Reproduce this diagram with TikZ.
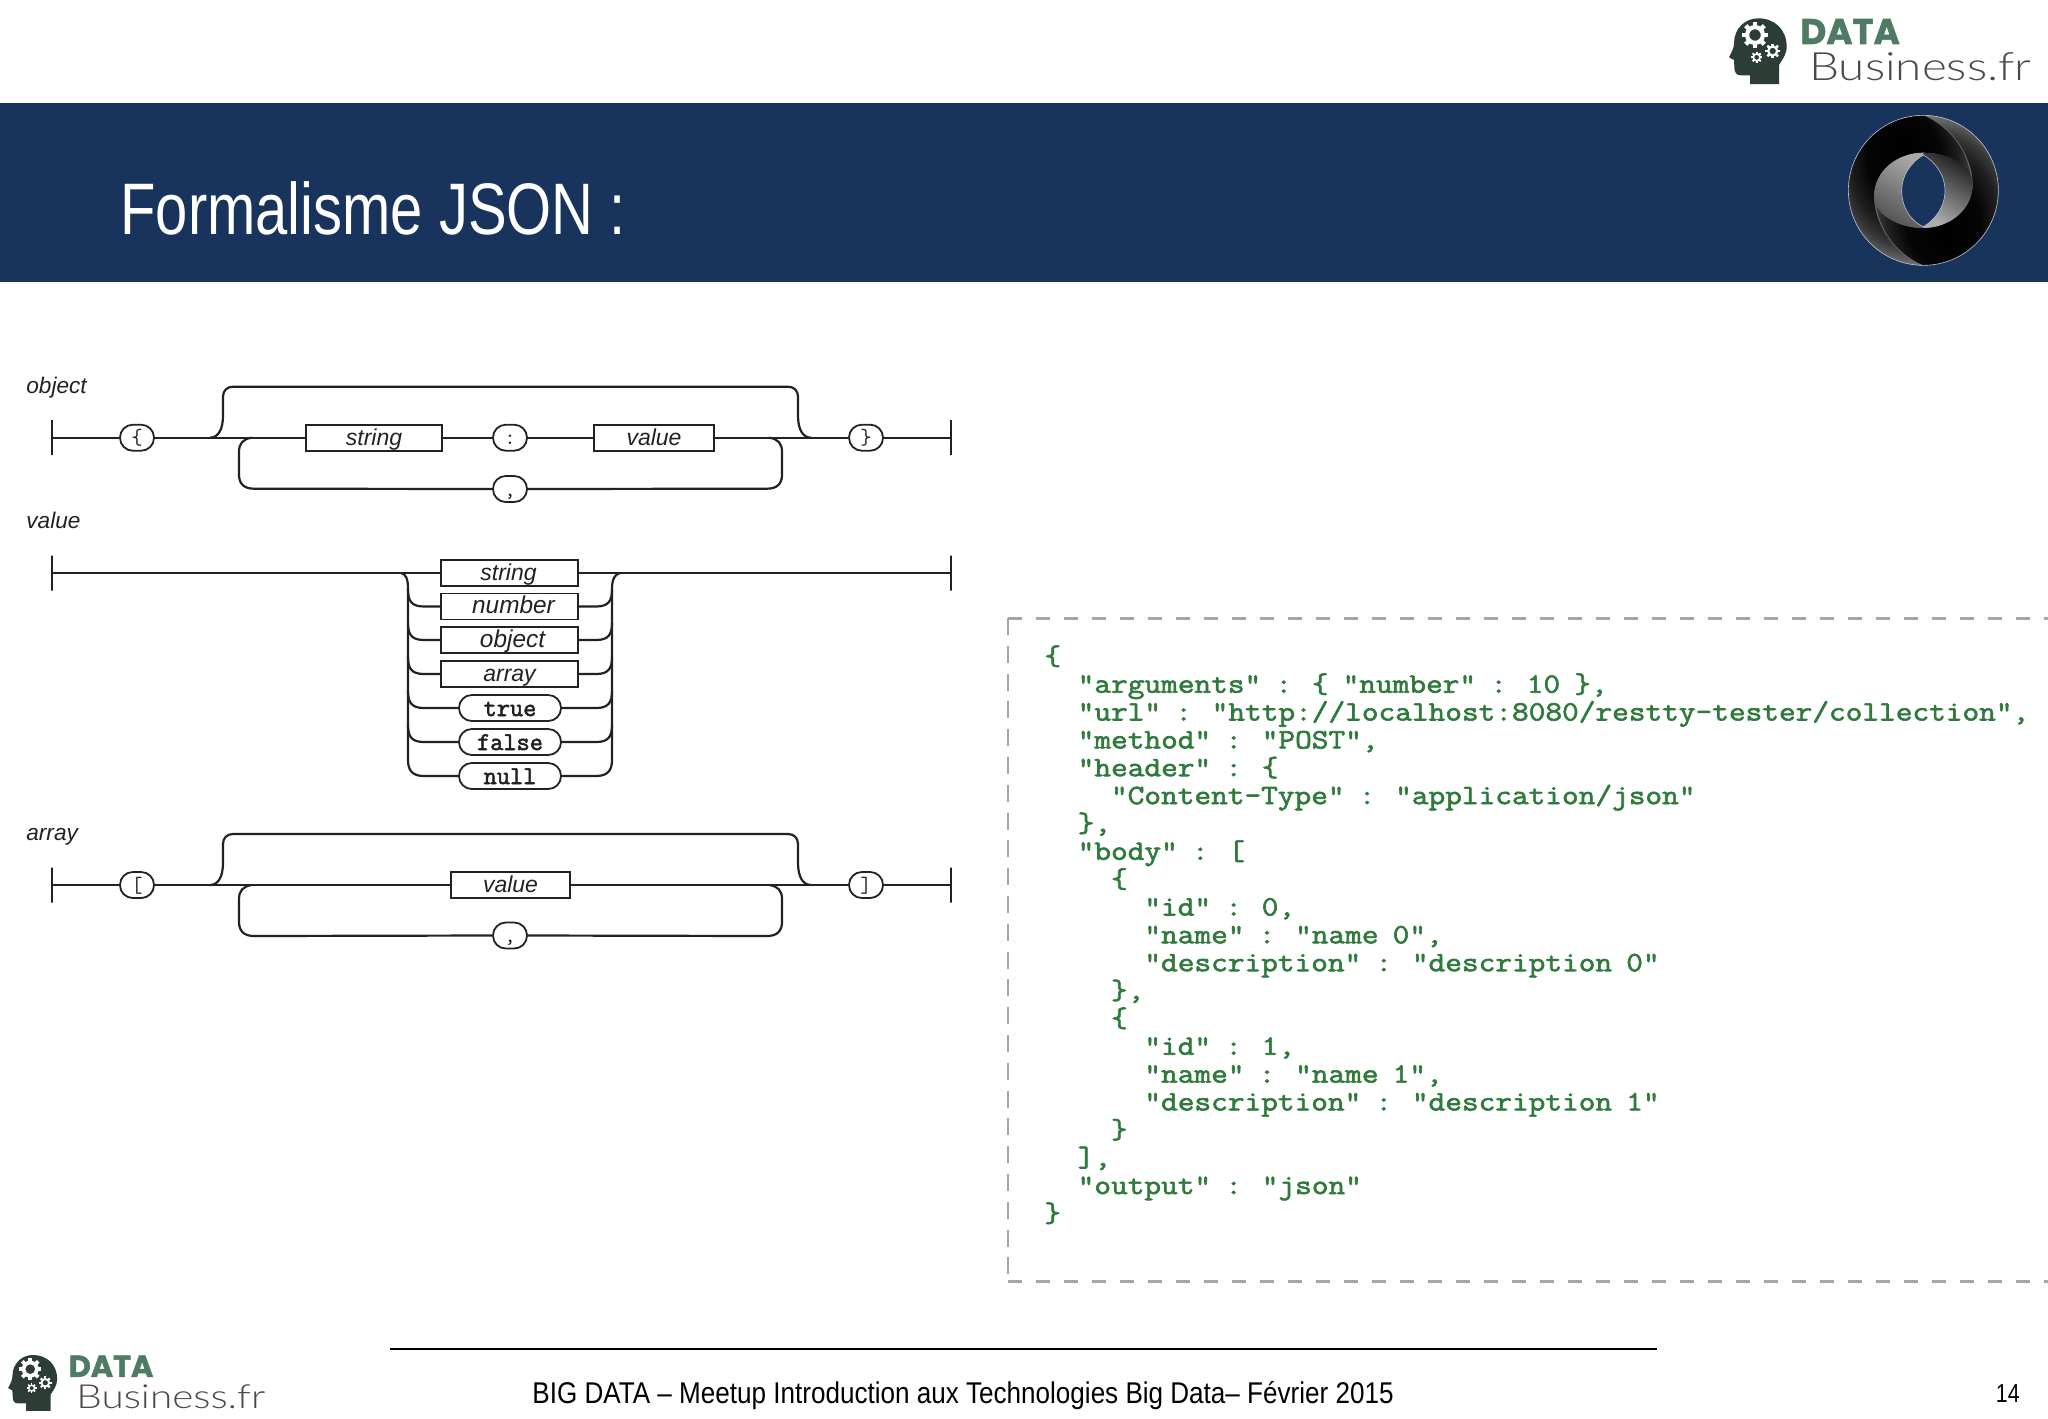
\documentclass[tikz,border=0pt]{standalone}
\usepackage{fontspec}
\setmainfont{Liberation Sans}
\newfontfamily\titlef{Liberation Sans}[FakeStretch=0.794]
\newfontfamily\footf{Liberation Sans}[FakeStretch=0.869]
\newfontfamily\pagef{Liberation Sans}[FakeStretch=0.82]
\newfontfamily\logobold{Poppins}[BoldFeatures={FakeBold=1.5}]
\newfontfamily\logolight{Lato Light}[FakeStretch=1.22]
\newfontfamily\jm{Latin Modern Mono}[FakeBold=2.2]
\newfontfamily\jmc{Latin Modern Mono}[FakeBold=2.2,FakeStretch=1.157,WordSpace=0.85]
\usetikzlibrary{calc}
\definecolor{barblue}{HTML}{18335C}
\definecolor{logodark}{HTML}{2B3D35}
\definecolor{logogreen}{HTML}{4F7A64}
\definecolor{logogray}{HTML}{4A4A4A}
\definecolor{jsongreen}{HTML}{2F7A3C}
\definecolor{dashgray}{HTML}{A6A6A6}
\definecolor{ink}{HTML}{222222}
\pgfdeclareradialshading{swooshUL}{\pgfpoint{-4bp}{15.7bp}}{rgb(0bp)=(0,0,0); rgb(15bp)=(.02,.02,.02); rgb(22bp)=(.12,.12,.12); rgb(26bp)=(.22,.22,.22); rgb(31bp)=(.45,.45,.45); rgb(38bp)=(.56,.56,.56); rgb(50bp)=(.7,.7,.7)}
\pgfdeclareradialshading{swooshLR}{\pgfpoint{4bp}{-15.7bp}}{rgb(0bp)=(0,0,0); rgb(15bp)=(.02,.02,.02); rgb(22bp)=(.12,.12,.12); rgb(26bp)=(.22,.22,.22); rgb(31bp)=(.45,.45,.45); rgb(38bp)=(.56,.56,.56); rgb(50bp)=(.7,.7,.7)}
\tikzset{
  conn/.style={line width=1.1pt,color=ink},
  tick/.style={draw=ink,line width=1pt,shape=rectangle,minimum width=0pt,minimum height=17.5pt,inner sep=0pt},
  bx/.style={draw=ink,line width=.9pt,fill=white,shape=rectangle,inner sep=0pt,text height=9pt,text depth=1.7pt,minimum height=13pt,minimum width=#1*0.5pt,font=\itshape\fontsize{11.5pt}{12pt}\selectfont,text=ink},
  pill/.style={draw=ink,line width=.9pt,fill=white,shape=rectangle,rounded corners=6.4pt,inner sep=0pt,text height=9.5pt,text depth=1.5pt,minimum height=13pt,minimum width=#1*0.5pt,font=\jm\fontsize{12.8pt}{13pt}\selectfont,text=ink},
  punct/.style={pill=34,font=\ttfamily\fontsize{11pt}{12pt}\selectfont,text height=8.5pt,text depth=1.5pt},
  lbl/.style={anchor=base west,inner sep=0pt,font=\itshape\fontsize{11.3pt}{12pt}\selectfont,text=ink},
  code/.style={anchor=base west,inner sep=0pt,yshift=-0.4pt,text=jsongreen,text height=9.5pt,text depth=2pt,font=\jmc\fontsize{14pt}{16pt}\selectfont},
  dashrule/.style={dashgray,line width=1.5pt,dash pattern=on 7pt off 7pt},
  dashside/.style={dashgray,line width=1pt,dash pattern=on 8.5pt off 5.4pt},
}
% the two loops shared by the object and array rules
\newcommand{\syntaxloops}[6]{% y, left jct, right jct, comma, lower left jct, lower right jct
  \draw[conn] (#2) .. controls (218,#1) and (223,#1-8) .. (223,#1-22) -- (223,#1-41)
     .. controls (223,#1-47) and (227,#1-51) .. (233,#1-51) -- (788,#1-51)
     .. controls (794,#1-51) and (798,#1-47) .. (798,#1-41) -- (798,#1-22)
     .. controls (798,#1-8) and (803,#1) .. (#3);
  \draw[conn] (#5) .. controls (243,#1+1) and (239,#1+6) .. (239,#1+14) -- (239,#1+37)
     .. controls (239,#1+46) and (244,#1+51) .. (254,#1+51) -- (#4.west);
  \draw[conn] (#4.east) -- (767,#1+51) .. controls (777,#1+51) and (782,#1+46) .. (782,#1+37)
     -- (782,#1+14) .. controls (782,#1+6) and (778,#1+1) .. (#6);
}
\newcommand{\gearmark}[3]{%
  \fill[white,even odd rule] (#1,#2) circle ({#3}) (#1,#2) circle ({0.58*#3});
  \foreach \a in {0,45,...,315}
    \fill[white,shift={(#1,#2)},rotate=\a] ({-0.22*#3},{0.85*#3}) rectangle ({0.22*#3},{1.32*#3});
}
\newcommand{\dblogo}[4]{% x, y, scale, name prefix
  \begin{scope}[shift={(#1,#2)},scale=#3,transform shape]
    \begin{scope}[x=0.16667pt,y=-0.16667pt]
      \fill[logodark] (300,252) -- (300,226) -- (272,226) .. controls (258,226) and (252,215) .. (253,200)
        -- (252,180) -- (237,172) .. controls (245,155) and (252,145) .. (252,130)
        .. controls (252,85) and (285,55) .. (325,55) .. controls (375,55) and (410,90) .. (410,140)
        .. controls (410,165) and (395,180) .. (387,195) -- (387,252) -- cycle;
      \gearmark{315}{105}{30}
      \gearmark{368}{153}{17}
      \gearmark{320}{172}{13}
    \end{scope}
    \node[anchor=base west,inner sep=0pt,text height=12.5pt,text depth=0pt,text=logogreen,font=\logobold\bfseries\fontsize{17.8pt}{19pt}\selectfont] (#4data) at (150,44) {DATA};
    \node[anchor=base west,inner sep=0pt,text height=14pt,text depth=0pt,text=logogray,font=\logolight\fontsize{19.5pt}{20pt}\selectfont] (#4biz) at (159,81) {Business.fr};
  \end{scope}
}
\begin{document}
\begin{tikzpicture}[x=0.5pt,y=-0.5pt]
\useasboundingbox (0,0) rectangle (2048,1418);
\fill[white] (0,0) rectangle (2048,1418);
% header
\fill[barblue] (0,103) rectangle (2048,282);
\node[anchor=base west,inner sep=0pt,text=white,font=\titlef\fontsize{36.5pt}{38pt}\selectfont] (title) at (120,234) {Formalisme JSON :};
\dblogo{1650}{0}{1}{top}
\dblogo{-59}{1339.4}{0.85}{bot}
% JSON logo
\begin{scope}[shift={(1650,0)},x=0.16667pt,y=-0.16667pt]
  \fill[black!60] (820,571) circle (225);
  \shade[shading=swooshLR] (820,796) .. controls (944.3,796) and (1045,695.3) .. (1045,571)
     .. controls (1045,446.7) and (944.3,346) .. (820,346)
     .. controls (895,367) and (968,462) .. (968,552) .. controls (968,632) and (895,684) .. (820,684)
     .. controls (740,684) and (675,642) .. (675,577) .. controls (675,672) and (730,757) .. (820,796) -- cycle;
  \shade[shading=swooshUL] (820,346) .. controls (695.7,346) and (595,446.7) .. (595,571)
     .. controls (595,695.3) and (695.7,796) .. (820,796)
     .. controls (745,775) and (672,680) .. (672,590) .. controls (672,510) and (745,458) .. (820,458)
     .. controls (900,458) and (965,500) .. (965,565) .. controls (965,470) and (910,385) .. (820,346) -- cycle;
  \shade[top color=black!34,bottom color=black!68,shading angle=-30] (820,458) .. controls (745,458) and (672,510) .. (672,590)
     .. controls (672,640) and (740,684) .. (820,684) -- cycle;
  \shade[bottom color=black!32,top color=black!88,shading angle=-30] (820,684) .. controls (895,684) and (968,632) .. (968,552)
     .. controls (968,500) and (900,458) .. (820,458) -- cycle;
  \fill[barblue,draw=white!70!barblue,line width=.3pt] (820,465) .. controls (785,485) and (755,525) .. (755,571)
     .. controls (755,625) and (785,665) .. (820,680) .. controls (855,660) and (885,620) .. (885,571)
     .. controls (885,525) and (855,485) .. (820,465) -- cycle;
  \draw[white!70!barblue,line width=.3pt] (820,571) circle (225);
\end{scope}
% object rule
\node[lbl] (lobj) at (26,393) {object};
\node[tick] (ol) at (51.7,437.7) {};
\node[tick] (or) at (951,437.7) {};
\node[punct] (oa) at (137,437.7) {\{};
\node[bx=136] (ostr) at (374,437.7) {string};
\node[punct] (oc) at (510,437.7) {:};
\node[bx=120] (oval) at (654,437.7) {value};
\node[punct] (ob) at (866,437.7) {\}};
\node[punct] (ocm) at (510,489) {,};
\coordinate (oj1) at (210,437.7);
\coordinate (oj2) at (811,437.7);
\coordinate (oj3) at (252,437.7);
\coordinate (oj4) at (769,437.7);
\draw[conn] (ol) -- (oa);
\draw[conn] (oa) -- (ostr);
\draw[conn] (ostr) -- (oc);
\draw[conn] (oc) -- (oval);
\draw[conn] (oval) -- (ob);
\draw[conn] (ob) -- (or);
\syntaxloops{437.7}{oj1}{oj2}{ocm}{oj3}{oj4}
% value rule
\node[lbl] (lval) at (26,528.6) {value};
\node[tick] (vl) at (51.7,573) {};
\node[tick] (vr) at (951,573) {};
\node[bx=137] (v1) at (509.5,573) {\hspace*{-1pt}string};
\node[bx=137] (v2) at (509.5,606.5) {\hspace*{4pt}\fontsize{12.2pt}{13pt}\selectfont number};
\node[bx=137] (v3) at (509.5,640) {\hspace*{3pt}\fontsize{12.2pt}{13pt}\selectfont object};
\node[bx=137] (v4) at (509.5,674) {array};
\node[pill=102] (v5) at (510,708) {true};
\node[pill=102] (v6) at (510,742) {false};
\node[pill=102] (v7) at (510,776) {null};
\draw[conn] (vl) -- (v1);
\draw[conn] (v1) -- (vr);
\coordinate (vjl) at (401,573);
\coordinate (vjr) at (620,573);
\draw[conn] (vjl) .. controls (406,574) and (408,579) .. (408,589) -- (408,760) .. controls (408,770) and (412,776) .. (424,776) -- (v7);
\draw[conn] (v7) -- (596,776) .. controls (608,776) and (612,770) .. (612,760) -- (612,589) .. controls (612,579) and (615,574) .. (vjr);
\foreach \n/\cy in {v2/606.5,v3/640,v4/674,v5/708,v6/742}{
  \draw[conn] (408,\cy-17) .. controls (408,\cy-5) and (412,\cy) .. (424,\cy) -- (\n);
  \draw[conn] (\n) -- (596,\cy) .. controls (608,\cy) and (612,\cy-5) .. (612,\cy-17);
}
% array rule
\node[lbl] (larr) at (26,840) {array};
\node[tick] (al) at (51.7,885) {};
\node[tick] (ar) at (951,885) {};
\node[punct] (aa) at (137,885) {[};
\node[bx=119] (aval) at (510.5,885) {value};
\node[punct] (ab) at (866,885) {]};
\node[punct] (acm) at (510,935.5) {,};
\coordinate (aj1) at (210,885);
\coordinate (aj2) at (811,885);
\coordinate (aj3) at (252,885);
\coordinate (aj4) at (769,885);
\draw[conn] (al) -- (aa);
\draw[conn] (aa) -- (aval);
\draw[conn] (aval) -- (ab);
\draw[conn] (ab) -- (ar);
\syntaxloops{885}{aj1}{aj2}{acm}{aj3}{aj4}
% JSON sample
\draw[dashrule] (1008,618) -- (2048,618);
\draw[dashrule] (1008,1281) -- (2048,1281);
\draw[dashside] (1008,618) -- (1008,1281);
\node[code] (c0) at (1044,664) {\{};
\node[code] (c1) at (1077.3,691.9) {"arguments" : \{ "number" : 10 \},};
\node[code] (c2) at (1077.3,719.7) {"url" : "http://localhost:8080/restty-tester/collection",};
\node[code] (c3) at (1077.3,747.6) {"method" : "POST",};
\node[code] (c4) at (1077.3,775.4) {"header" : \{};
\node[code] (c5) at (1110.6,803.3) {"Content-Type" : "application/json"};
\node[code] (c6) at (1077.3,831.1) {\},};
\node[code] (c7) at (1077.3,859) {"body" : [};
\node[code] (c8) at (1110.6,886.8) {\{};
\node[code] (c9) at (1144,914.7) {"id" : 0,};
\node[code] (c10) at (1144,942.5) {"name" : "name 0",};
\node[code] (c11) at (1144,970.4) {"description" : "description 0"};
\node[code] (c12) at (1110.6,998.2) {\},};
\node[code] (c13) at (1110.6,1026.1) {\{};
\node[code] (c14) at (1144,1053.9) {"id" : 1,};
\node[code] (c15) at (1144,1081.8) {"name" : "name 1",};
\node[code] (c16) at (1144,1109.6) {"description" : "description 1"};
\node[code] (c17) at (1110.6,1137.5) {\}};
\node[code] (c18) at (1077.3,1165.3) {],};
\node[code] (c19) at (1077.3,1193.2) {"output" : "json"};
\node[code] (c20) at (1044,1221) {\}};
% footer
\coordinate (fl) at (390,1349);
\coordinate (fr) at (1657,1349);
\draw[black,line width=1pt] (fl) -- (fr);
\node[anchor=base west,inner sep=0pt,font=\footf\fontsize{15pt}{16pt}\selectfont] (foot) at (532,1403) {BIG DATA – Meetup Introduction aux Technologies Big Data– Février 2015};
\node[anchor=base east,inner sep=0pt,font=\pagef\fontsize{13pt}{14pt}\selectfont] (page) at (2020,1402) {14};
\end{tikzpicture}
\end{document}
